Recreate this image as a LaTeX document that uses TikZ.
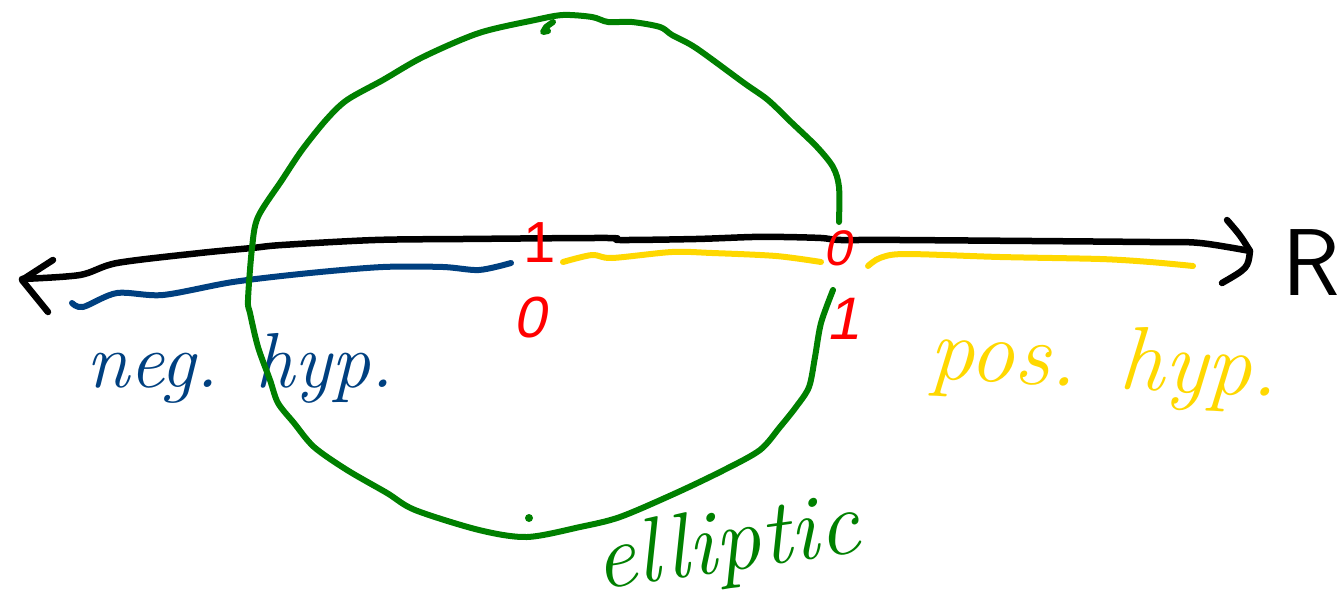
\documentclass[tikz,border=0pt]{standalone}
\usepackage{fontspec}
\newfontfamily\digitfont[FakeSlant=0.2]{Liberation Sans}
\newfontfamily\digitup{Liberation Sans}
\definecolor{hgreen}{RGB}{0,128,0}
\definecolor{hblue}{RGB}{0,64,128}
\definecolor{hyellow}{RGB}{255,216,0}
\definecolor{hred}{RGB}{255,0,0}
\tikzset{
  pen/.style={line width=6pt, line cap=round, line join=round},
  hand/.style={font=\fontsize{#1}{#1}\selectfont\itshape, inner sep=0pt},
  digit/.style={font=\fontsize{#1}{#1}\selectfont\digitfont, text=hred, inner sep=0pt},
}
\begin{document}
\begin{tikzpicture}[x=1pt,y=-1pt]
\useasboundingbox (0,0) rectangle (1343,607);
% axis
\draw[pen, black, line width=6.5pt] plot[smooth, tension=0.5] coordinates {(22,279) (80,275) (117,263) (200,253) (252,248) (282,245) (375,240) (463,239) (608,238) (620,240) (696,239) (752,237) (784,237) (821,238) (841,240) (900,240) (1150,242) (1200,243) (1250,251)};
\draw[pen, black, line width=6.5pt] (53,260) -- (22,280) -- (48,312);
\draw[pen, black, line width=6.5pt] (1227,220) .. controls (1240,235) .. (1250,251) .. controls (1248,268) .. (1222,283);
\node[font=\fontsize{95}{95}\selectfont\sffamily, inner sep=0pt] (R) at (1311,263) {R};
% blue line
\draw[pen, hblue] plot[smooth, tension=0.5] coordinates {(72,303) (83,307) (117,293) (163,295) (233,282) (310,273) (383,267) (443,267) (479,270) (511,263)};
% yellow lines
\draw[pen, hyellow] plot[smooth, tension=0.5] coordinates {(563,262) (592,255) (612,258) (672,252) (712,253) (776,256) (821,262)};
\draw[pen, hyellow] plot[smooth, tension=0.5] coordinates {(868,266) (880,258) (905,254) (1000,257) (1100,259) (1150,262) (1193,266)};
% texts
\node[hand=78, text=hblue, anchor=base] (neg) at (240,387) {neg. hyp.};
\node[hand=90, text=hyellow, anchor=base, rotate=-3] (pos) at (1103,388) {pos. hyp.};
% green circle
\draw[pen, hgreen] plot[smooth, tension=0.5] coordinates {(839,222) (839,187) (833,167) (817,147) (792,123) (768,100) (744,83) (696,48) (672,35) (660,27) (632,22) (608,22) (592,17) (563,15) (535,20) (479,33) (423,57) (383,80) (347,100) (326,120) (302,150) (282,180) (258,217) (252,248) (248,300) (250,313) (258,347) (270,380) (278,403) (294,423) (314,447) (347,470) (387,493) (415,510) (479,530) (527,537) (580,527) (620,517) (676,493) (724,470) (760,450) (780,427) (796,407) (809,387) (815,357) (821,323) (833,290)};
\draw[pen, hgreen] (553,22) -- (546,27) -- (543,32) -- (548,31);
\fill[hgreen] (529,518) circle (4);
\node[hand=92, text=hgreen, rotate=8] (ell) at (727,548) {elliptic};
% red labels
\node[font=\fontsize{58}{58}\selectfont\digitup, text=hred, inner sep=0pt] (one1) at (540,243) {1};
\node[digit=58] (zero1) at (530,318) {0};
\node[digit=50] (zero2) at (837,248) {0};
\node[digit=60] (one2) at (843,319) {1};
\end{tikzpicture}
\end{document}
